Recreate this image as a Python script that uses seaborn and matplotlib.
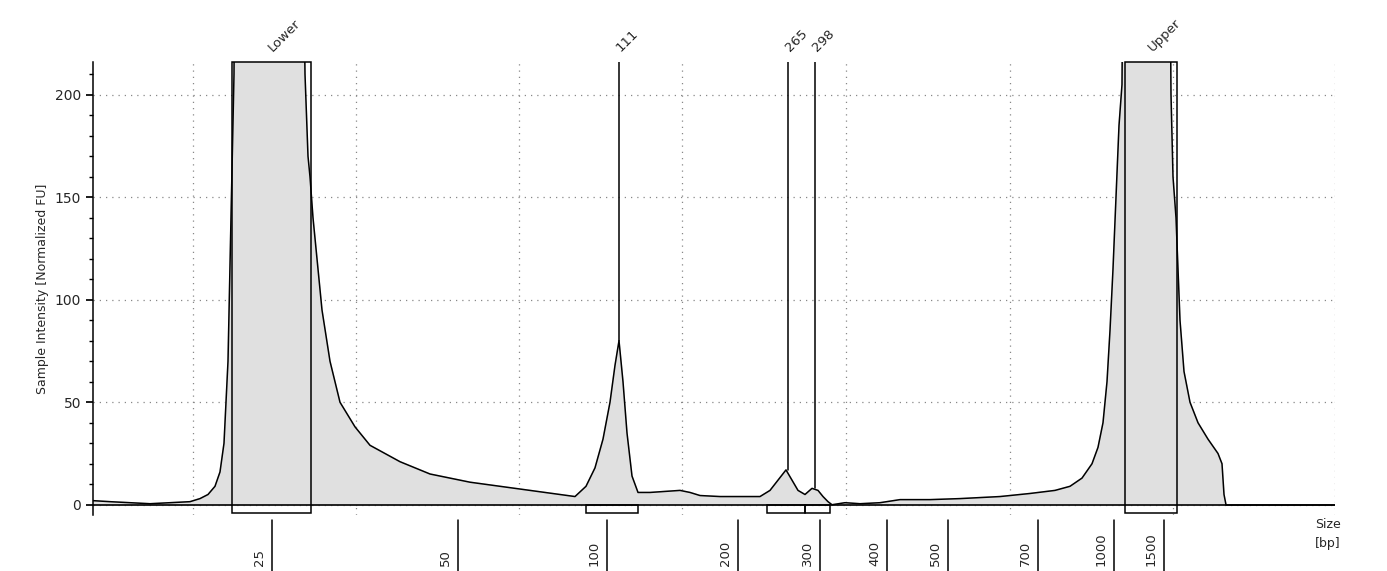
import matplotlib
matplotlib.use("Agg")
import matplotlib.pyplot as plt
import matplotlib.transforms as mtransforms
import numpy as np
import seaborn as sns

sns.set_theme(style="white")
plt.rcParams["font.family"] = ["DejaVu Sans"]

# electropherogram trace (run position vs normalized FU)
position = [93, 110, 130, 150, 170, 190, 200, 208, 215, 220, 224, 228, 231, 234, 236,
            300, 305, 308, 310, 313, 317, 322, 330, 340, 355, 370, 385, 400, 430, 470,
            500, 530, 560, 575, 586, 595, 603, 610, 615, 619, 623, 627, 632, 638, 650,
            665, 680, 690, 700, 720, 740, 760, 770, 778, 786, 792, 798, 805, 812, 818,
            823, 828, 832, 845, 860, 880, 900, 930, 960, 1000, 1030, 1055, 1070, 1082,
            1092, 1098, 1103, 1107, 1110, 1113, 1116, 1119, 1122, 1125,
            1168, 1171, 1173, 1176, 1178, 1180, 1184, 1190, 1198, 1208, 1218, 1222, 1224, 1226]
intensity = [2, 1.5, 1, 0.5, 1, 1.5, 3, 5, 9, 16, 30, 70, 140, 210, 400,
             400, 210, 170, 160, 140, 120, 95, 70, 50, 38, 29, 25, 21, 15, 11,
             9, 7, 5, 4, 9, 18, 32, 50, 68, 80, 60, 35, 14, 6, 6,
             6.5, 7, 6, 4.5, 4, 4, 4, 7, 12, 17, 12, 7, 5, 8, 7,
             4, 1.5, 0, 1, 0.5, 1, 2.5, 2.5, 3, 4, 5.5, 7, 9, 13,
             20, 28, 40, 60, 85, 115, 150, 185, 205, 400,
             400, 200, 160, 140, 115, 90, 65, 50, 40, 32, 25, 20, 5, 0]

peak_labels = ["Lower", "111", "265", "298", "Upper"]
peak_pos = [271, 619, 788, 815, 1151]
peak_height = [216, 80, 17, 8, 216]
peak_spans = [(232, 311), (586, 638), (767, 805), (805, 830), (1125, 1177)]

size_labels = ["25", "50", "100", "200", "300", "400", "500", "700", "1000", "1500"]
size_pos = [272, 458, 607, 738, 820, 887, 948, 1038, 1114, 1164]

grid_pos = [193, 356, 519, 682, 846, 1010, 1173, 1335]

fig = plt.figure(figsize=(13.87, 5.71), dpi=100)
ax = fig.add_axes([93 / 1387, 56 / 571, (1335 - 93) / 1387, 453 / 571])

ax.fill_between(position, intensity, color="#e0e0e0", zorder=1)
sns.lineplot(x=position, y=intensity, ax=ax, color="black", linewidth=1.1, zorder=3)
ax.plot([1226, 1335], [0, 0], color="black", linewidth=1.1)

ax.set_xlim(93, 1335)
ax.set_ylim(-5, 216)

# peak markers, integration boxes and labels
for lab, xp, h, (x0, x1) in zip(peak_labels, peak_pos, peak_height, peak_spans):
    if lab in ("Lower", "Upper"):
        ax.add_patch(plt.Rectangle((x0, -4), x1 - x0, 220, fill=False,
                                   edgecolor="black", linewidth=1.1, zorder=4,
                                   clip_on=False))
    else:
        ax.plot([xp, xp], [h, 216], color="black", linewidth=1.1, zorder=4)
        ax.add_patch(plt.Rectangle((x0, -4), x1 - x0, 4, fill=False,
                                   edgecolor="black", linewidth=1.1, zorder=4))
    ax.text(xp + 4, 220, lab, rotation=45, ha="left", va="bottom", fontsize=9.5,
            rotation_mode="anchor", clip_on=False)
ax.axhline(0, color="black", linewidth=1.2, zorder=5)

ax.set_yticks([0, 50, 100, 150, 200])
ax.set_yticks(np.arange(0, 216, 10), minor=True)
ax.yaxis.grid(True, which="major", linestyle=(0, (1, 4)), color="#888888", linewidth=0.9)
ax.set_xticks(grid_pos, minor=True)
ax.xaxis.grid(True, which="minor", linestyle=(0, (1, 4)), color="#888888", linewidth=0.9)
ax.tick_params(axis="y", which="major", left=True, length=5, labelsize=10, color="black")
ax.tick_params(axis="y", which="minor", left=True, length=3, color="black")
ax.tick_params(axis="x", which="minor", bottom=False)
ax.set_xticks(size_pos)
ax.set_xticklabels([])
ax.tick_params(axis="x", which="major", bottom=False)

trans = mtransforms.blended_transform_factory(ax.transData, fig.transFigure)
for lab, xp in zip(size_labels, size_pos):
    ax.plot([xp, xp], [0, 51 / 571], color="black", linewidth=1.1,
            transform=trans, clip_on=False)
    ax.text(xp - 6, 5 / 571, lab, rotation=90, ha="right", va="bottom", fontsize=9.5,
            transform=trans)
fig.text(1328 / 1387, 1 - 525 / 571, "Size", ha="center", va="center", fontsize=9)
fig.text(1328 / 1387, 1 - 543 / 571, "[bp]", ha="center", va="center", fontsize=9)

for s in ["top", "right", "bottom"]:
    ax.spines[s].set_visible(False)
ax.spines["left"].set_color("black")
ax.spines["left"].set_linewidth(1.1)
ax.set_ylabel("Sample Intensity [Normalized FU]", fontsize=9)

fig.savefig("out.png", dpi=100)
